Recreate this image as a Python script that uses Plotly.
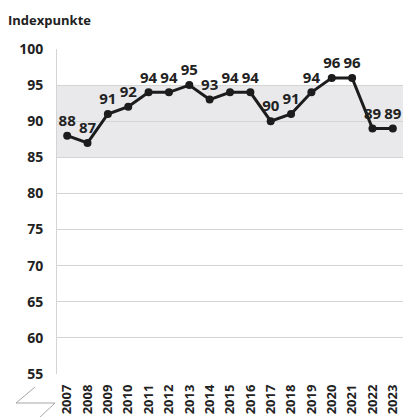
import plotly.graph_objects as go

years = [str(y) for y in range(2007, 2024)]
values = [88, 87, 91, 92, 94, 94, 95, 93, 94, 94, 90, 91, 94, 96, 96, 89, 89]
y_ticks = [55, 60, 65, 70, 75, 80, 85, 90, 95, 100]
band = [85, 95]

W, H = 403, 417
L, R, T, B = 57, 0, 49, 43
pw, ph = W - L - R, H - T - B

def px(x):
    return (x - L) / pw

def py(y):
    return (H - B - y) / ph

fig = go.Figure()
fig.add_trace(go.Scatter(
    x=years, y=values, mode="lines+markers+text",
    text=[str(v) for v in values], textposition="top center",
    textfont=dict(family="Open Sans", size=15, color="#222222", weight="bold"),
    line=dict(color="#1c1c1c", width=3),
    marker=dict(color="#1c1c1c", size=8),
    cliponaxis=False, hoverinfo="skip",
))

fig.add_shape(type="rect", xref="paper", yref="y", x0=0, x1=1, y0=band[0], y1=band[1],
              fillcolor="#e9e9eb", line_width=0, layer="below")

# axis break symbol
fig.add_shape(type="path", xref="paper", yref="paper",
              path=f"M {px(35)} {py(387)} L {px(16)} {py(403)} L {px(55)} {py(403)} L {px(38)} {py(419)}",
              line=dict(color="#a6a6a6", width=1))

fig.add_annotation(text="<b>Indexpunkte</b>", xref="paper", yref="paper",
                   x=px(6), y=py(20), xanchor="left", yanchor="middle", showarrow=False,
                   font=dict(family="Open Sans", size=13, color="#222222"))

fig.update_layout(
    width=W, height=H, margin=dict(l=L, r=R, t=T, b=B, autoexpand=False),
    paper_bgcolor="white", plot_bgcolor="white", showlegend=False,
    xaxis=dict(type="category", range=[-0.5, len(years) - 0.5], tickangle=-90,
               showgrid=False, showline=False,
               ticks="", automargin=False, ticklabelstandoff=7,
               tickfont=dict(family="Open Sans", size=13, color="#222222", weight="bold"),
               fixedrange=True),
    yaxis=dict(range=[55, 100], tickvals=y_ticks, showgrid=True, gridcolor="#d4d4d4",
               gridwidth=1, zeroline=False, showline=True, linecolor="#d4d4d4",
               ticks="", ticklabelstandoff=10, automargin=False,
               tickfont=dict(family="Open Sans", size=14, color="#222222", weight="bold"),
               fixedrange=True),
)

fig.write_html("out.html", config={"displayModeBar": False},
               post_script="document.body.style.margin='0';document.body.style.overflow='hidden';")
